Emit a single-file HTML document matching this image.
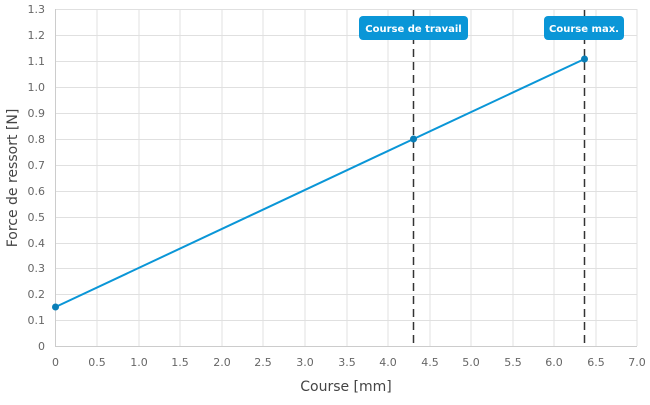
<!DOCTYPE html><html><head><style>body{margin:0;background:#fff}</style></head><body>
<svg width="650" height="400" xmlns="http://www.w3.org/2000/svg" font-family="DejaVu Sans, sans-serif">
<g stroke="#e0e0e0" stroke-width="1">
<line x1="55.5" y1="9.5" x2="637" y2="9.5"/><line x1="55.5" y1="35.5" x2="637" y2="35.5"/><line x1="55.5" y1="61.5" x2="637" y2="61.5"/><line x1="55.5" y1="87.5" x2="637" y2="87.5"/><line x1="55.5" y1="113.5" x2="637" y2="113.5"/><line x1="55.5" y1="139.5" x2="637" y2="139.5"/><line x1="55.5" y1="165.5" x2="637" y2="165.5"/><line x1="55.5" y1="191.5" x2="637" y2="191.5"/><line x1="55.5" y1="217.5" x2="637" y2="217.5"/><line x1="55.5" y1="243.5" x2="637" y2="243.5"/><line x1="55.5" y1="268.5" x2="637" y2="268.5"/><line x1="55.5" y1="294.5" x2="637" y2="294.5"/><line x1="55.5" y1="320.5" x2="637" y2="320.5"/>
<line x1="97" y1="9" x2="97" y2="346"/><line x1="139" y1="9" x2="139" y2="346"/><line x1="180" y1="9" x2="180" y2="346"/><line x1="222" y1="9" x2="222" y2="346"/><line x1="263" y1="9" x2="263" y2="346"/><line x1="305" y1="9" x2="305" y2="346"/><line x1="347" y1="9" x2="347" y2="346"/><line x1="388" y1="9" x2="388" y2="346"/><line x1="430" y1="9" x2="430" y2="346"/><line x1="471" y1="9" x2="471" y2="346"/><line x1="513" y1="9" x2="513" y2="346"/><line x1="554" y1="9" x2="554" y2="346"/><line x1="596" y1="9" x2="596" y2="346"/><line x1="637" y1="9" x2="637" y2="346"/>
</g>
<line x1="55.5" y1="9" x2="55.5" y2="346" stroke="#ccc"/><line x1="55" y1="346.5" x2="637" y2="346.5" stroke="#ccc"/>
<g font-size="11" fill="#666" text-anchor="end">
<text x="45" y="13">1.3</text><text x="45" y="39">1.2</text><text x="45" y="65">1.1</text><text x="45" y="91">1.0</text><text x="45" y="117">0.9</text><text x="45" y="143">0.8</text><text x="45" y="169">0.7</text><text x="45" y="195">0.6</text><text x="45" y="221">0.5</text><text x="45" y="247">0.4</text><text x="45" y="272">0.3</text><text x="45" y="298">0.2</text><text x="45" y="324">0.1</text><text x="45" y="350">0</text>
</g>
<g font-size="11" fill="#666" text-anchor="middle">
<text x="55.5" y="366">0</text><text x="97" y="366">0.5</text><text x="139" y="366">1.0</text><text x="180" y="366">1.5</text><text x="222" y="366">2.0</text><text x="263" y="366">2.5</text><text x="305" y="366">3.0</text><text x="347" y="366">3.5</text><text x="388" y="366">4.0</text><text x="430" y="366">4.5</text><text x="471" y="366">5.0</text><text x="513" y="366">5.5</text><text x="554" y="366">6.0</text><text x="596" y="366">6.5</text><text x="637" y="366">7.0</text>
</g>
<text x="346" y="391" font-size="14" fill="#444" text-anchor="middle">Course [mm]</text>
<text transform="translate(17,178) rotate(-90)" font-size="14" fill="#444" text-anchor="middle">Force de ressort [N]</text>
<g stroke="#333" stroke-width="1.5" stroke-dasharray="8,5">
<line x1="413.5" y1="10" x2="413.5" y2="346"/><line x1="584.5" y1="10" x2="584.5" y2="346"/></g>
<polyline points="55.5,307 413.5,139 584.5,59" fill="none" stroke="#0a96d7" stroke-width="2"/>
<g fill="#0a7fb8"><circle cx="55.5" cy="307" r="3.5"/><circle cx="413.5" cy="139" r="3.5"/><circle cx="584.5" cy="59" r="3.5"/></g>
<rect x="359" y="16" width="109" height="24" rx="4" fill="#0a96d7"/>
<rect x="544" y="16" width="80" height="24" rx="4" fill="#0a96d7"/>
<g font-size="10" font-weight="bold" fill="#fff" text-anchor="middle">
<text x="413.5" y="32">Course de travail</text><text x="584" y="32">Course max.</text></g>
</svg>
</body></html>
